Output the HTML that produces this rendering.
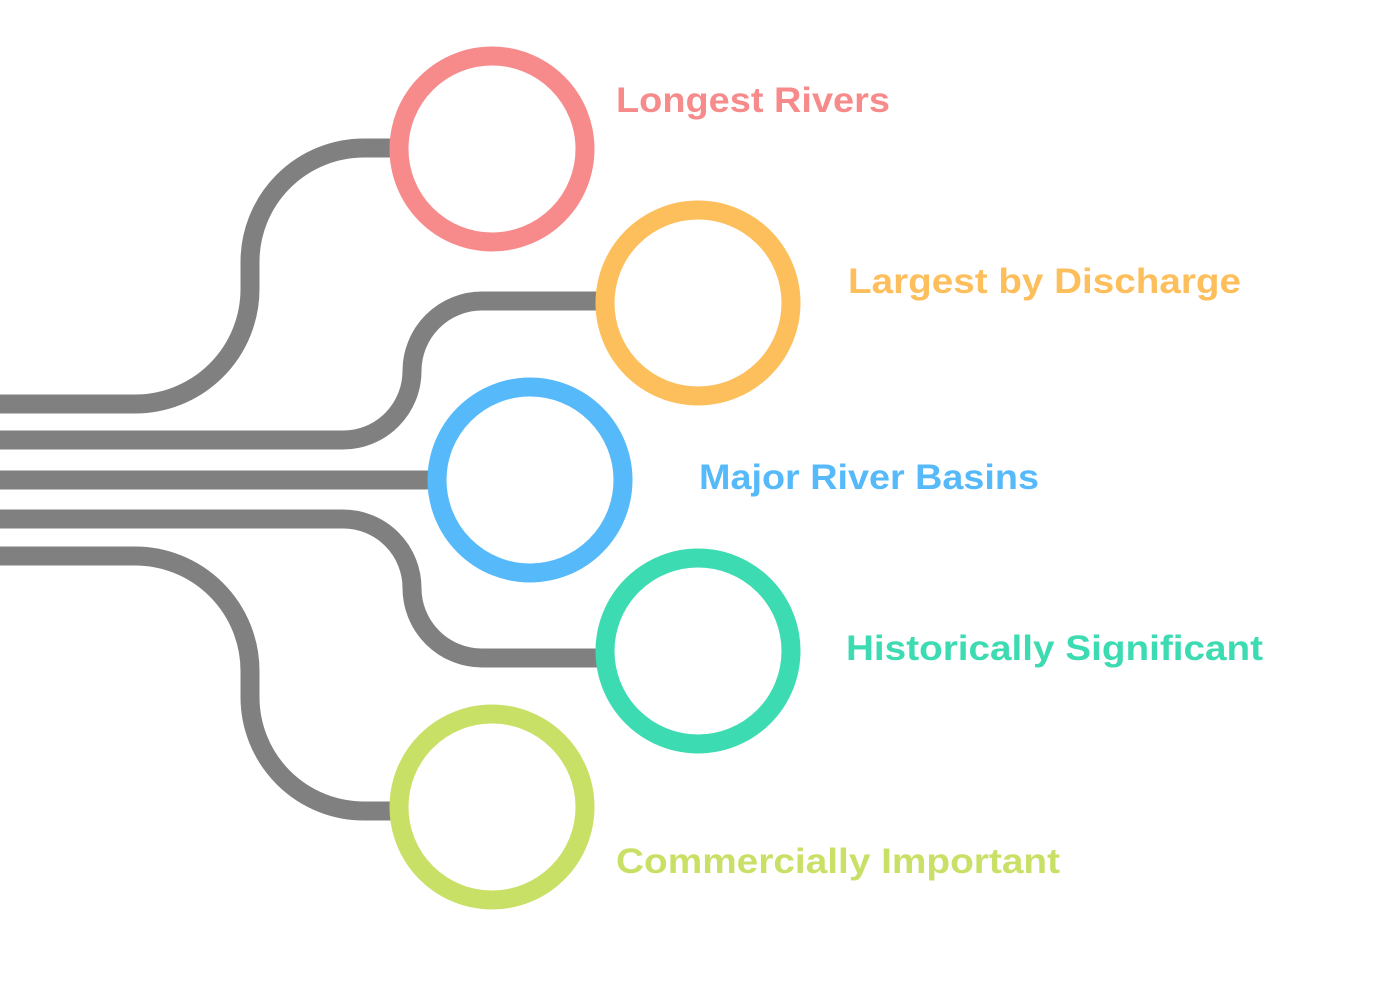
<!DOCTYPE html>
<html><head><meta charset="utf-8"><style>
html,body{margin:0;padding:0;background:#fff;width:1400px;height:1000px;overflow:hidden}
text{font-family:"Liberation Sans",sans-serif;font-weight:bold;font-size:35px}
</style></head><body>
<svg width="1400" height="1000" viewBox="0 0 1400 1000">
<g fill="none" stroke="#808080" stroke-width="19">
<path d="M0 404 H135 A115 115 0 0 0 250 289 V 262 A114 114 0 0 1 364 148 H400"/>
<path d="M0 440 H343 A69 69 0 0 0 412 371 A70 70 0 0 1 482 301 H600"/>
<path d="M0 480 H440"/>
<path d="M0 519 H343 A69 69 0 0 1 412 588 A70 70 0 0 0 482 658 H600"/>
<path d="M0 556 H135 A115 115 0 0 1 250 671 V 697 A114 114 0 0 0 364 811 H400"/>
</g>
<g fill="#fff" stroke-width="19">
<circle cx="492" cy="149" r="93" stroke="#F78B8B"/>
<circle cx="698" cy="303" r="93" stroke="#FDBE5C"/>
<circle cx="530" cy="480" r="93" stroke="#56B9FA"/>
<circle cx="698" cy="651" r="93" stroke="#3DDBB1"/>
<circle cx="492" cy="807" r="93" stroke="#C9E066"/>
</g>
<text x="616" y="112" fill="#F78B8B" textLength="274" lengthAdjust="spacingAndGlyphs">Longest Rivers</text>
<text x="848" y="293" fill="#FDBE5C" textLength="393" lengthAdjust="spacingAndGlyphs">Largest by Discharge</text>
<text x="699" y="489" fill="#56B9FA" textLength="340" lengthAdjust="spacingAndGlyphs">Major River Basins</text>
<text x="846" y="660" fill="#3DDBB1" textLength="417" lengthAdjust="spacingAndGlyphs">Historically Significant</text>
<text x="616" y="873" fill="#C9E066" textLength="444" lengthAdjust="spacingAndGlyphs">Commercially Important</text>
</svg>
</body></html>
